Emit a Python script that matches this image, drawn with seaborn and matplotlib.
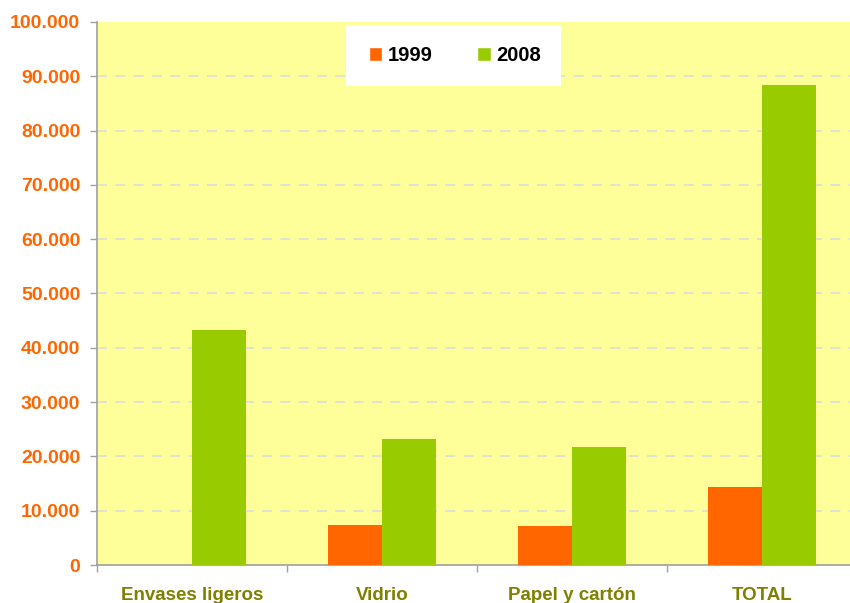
import matplotlib
matplotlib.use("Agg")
import matplotlib.pyplot as plt
import matplotlib.ticker as mticker
from matplotlib.patches import Patch, Rectangle
import seaborn as sns
import pandas as pd

categories = ["Envases ligeros", "Vidrio", "Papel y cartón", "TOTAL"]
years = ["1999", "2008"]
values_1999 = [0, 7400, 7200, 14400]
values_2008 = [43300, 23200, 21700, 88400]
yticks = list(range(0, 100001, 10000))

df = pd.DataFrame({
    "cat": categories * 2,
    "year": [years[0]] * 4 + [years[1]] * 4,
    "val": values_1999 + values_2008,
})

sns.set_theme(style="white")
plt.rcParams["font.family"] = ["Liberation Sans", "DejaVu Sans"]

ORANGE = "#FF6600"
GREEN = "#99CC00"

fig = plt.figure(figsize=(8.5, 6.03), dpi=100)
ax = fig.add_axes([97/850, 1-565/603, 760/850, 543/603])
ax.set_facecolor("#FFFF99")

sns.barplot(data=df, x="cat", y="val", hue="year", order=categories,
            hue_order=years, palette=[ORANGE, GREEN], width=0.57,
            saturation=1, ax=ax, legend=False, zorder=3, linewidth=0,
            edgecolor="none")

ax.set_ylim(0, 100000)
ax.set_xlim(-0.5, 3.5)
ax.set_yticks(yticks)
ax.yaxis.set_major_formatter(mticker.FuncFormatter(lambda v, p: f"{int(v):,}".replace(",", ".")))
ax.set_xlabel("")
ax.set_ylabel("")

for y in yticks[1:-1]:
    ax.axhline(y, color="#DDDDDD", lw=1.2, ls=(0, (6, 5)), zorder=1)

for s in ["top", "right"]:
    ax.spines[s].set_visible(False)
for s in ["left", "bottom"]:
    ax.spines[s].set_color("#A0A0A0")
    ax.spines[s].set_linewidth(1.2)

ax.tick_params(axis="y", which="major", direction="out", length=5, width=1,
               color="#A0A0A0", pad=7, labelsize=14, labelcolor=ORANGE, left=True)
for t in ax.get_yticklabels():
    t.set_fontweight("bold")
ax.set_xticks([-0.5, 0.5, 1.5, 2.5, 3.5], minor=True)
ax.tick_params(axis="x", which="minor", direction="out", length=5, width=1,
               color="#A0A0A0", bottom=True)
ax.tick_params(axis="x", which="major", length=0, pad=16, labelsize=13.5,
               labelcolor="#808000")
for t in ax.get_xticklabels():
    t.set_fontweight("bold")

# legend box
ax.add_patch(Rectangle(((346-97)/760, (565-86)/543), 215/760, 61/543,
                       transform=ax.transAxes, facecolor="white",
                       edgecolor="none", zorder=5))
handles = [Patch(facecolor=ORANGE), Patch(facecolor=GREEN)]
leg = ax.legend(handles, years, loc="center", bbox_to_anchor=(0.471, 0.938),
                ncol=2, frameon=False, handlelength=0.68, handleheight=0.68,
                handletextpad=0.28, columnspacing=2.2, labelcolor="black",
                prop={"weight": "bold", "size": 14.5, "family": "Liberation Sans"})
leg.set_zorder(6)

fig.savefig("out.png", dpi=100)
